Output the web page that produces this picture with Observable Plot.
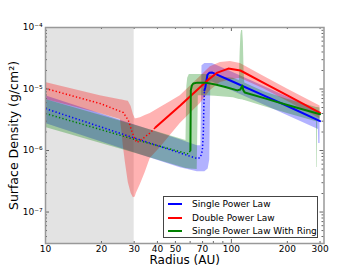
<!DOCTYPE html>
<html>
<head>
<meta charset="utf-8">
<script src="https://cdn.jsdelivr.net/npm/d3@7"></script>
<script src="https://cdn.jsdelivr.net/npm/@observablehq/plot@0.6"></script>
<style>
  html, body { margin: 0; padding: 0; background: #fff; }
  #wrap { position: relative; width: 360px; height: 270px; font-family: "DejaVu Sans", sans-serif; }
  #legend { position: absolute; left: 163px; top: 196px; width: 155px; height: 42px; box-sizing: border-box;
            border: 1px solid #444; background: #fff; font-size: 9px; color: #000; }
  .row { position: absolute; left: 0; height: 12px; line-height: 12px; white-space: nowrap; }
  .sample { position: absolute; left: 4px; width: 14px; height: 2px; top: 5px; }
  .lab { position: absolute; left: 28px; top: 0; }
</style>
</head>
<body>
<div id="wrap"></div>
<script>
// ---- axis / tick data ----
const xDomain = [10, 315];
const yDomain = [3.08e-8, 1e-4];
const shadeRange = [10, 30];
const xTickLabels = [10, 20, 30, 40, 50, 70, 100, 200, 300];
const xMajorTicks = [10, 100];
const xMinorTicks = [20, 30, 40, 50, 60, 70, 80, 90, 200, 300];
const yTickValues = [1e-7, 1e-6, 1e-5, 1e-4];
const yTickLabels = ["10\u207B\u2077", "10\u207B\u2076", "10\u207B\u2075", "10\u207B\u2074"];
const yMinorMultipliers = [2, 3, 4, 5, 6, 7, 8, 9];
const yMinorDecades = [1e-8, 1e-7, 1e-6, 1e-5];

// ---- legend ----
const seriesNames = ["Single Power Law", "Double Power Law", "Single Power Law With Ring"];
const seriesColors = ["#0000ff", "#ff0000", "#008000"];

// ---- Single Power Law (blue) ----
const blueDottedR = [10, 30, 53.1, 65.6, 68.1, 69.8, 70.7, 71.1, 71.6];
const blueDottedS = [4.8e-6, 1.6e-6, 9.1e-7, 7.4e-7, 7.7e-7, 1.0e-6, 2.1e-6, 5.4e-6, 9.5e-6];
const blueSolidR = [71.6, 72.4, 74.3, 76, 79, 100, 150, 200, 300];
const blueSolidS = [9.5e-6, 1.06e-5, 1.7e-5, 1.83e-5, 1.85e-5, 1.35e-5, 7.8e-6, 5.3e-6, 3.0e-6];
const blueBandR  = [10, 30, 53.1, 65.6, 68.5, 69.5, 72, 75, 76.5, 77.5, 79, 100, 150, 200, 294, 295, 300];
const blueBandLo = [2.75e-6, 9.2e-7, 5.25e-7, 4.5e-7, 4.5e-7, 4.5e-7, 4.5e-7, 5e-7, 7e-7, 1.3e-5, 1.3e-5, 9.5e-6, 5.5e-6, 3.7e-6, 2.2e-6, 1.3e-6, 1.3e-6];
const blueBandHi = [7.8e-6, 2.62e-6, 1.5e-6, 1.2e-6, 1.2e-6, 2.4e-5, 2.6e-5, 2.6e-5, 2.6e-5, 2.6e-5, 2.6e-5, 1.9e-5, 1.1e-5, 7.4e-6, 4.3e-6, 4.2e-6, 4.1e-6];

// ---- Double Power Law (red) ----
const redDottedR = [10, 19.7, 26.2, 27.9, 29.3, 30.4, 31.0, 33.5, 36.6, 39.0];
const redDottedS = [1.02e-5, 5.8e-6, 4.15e-6, 3.1e-6, 1.96e-6, 1.47e-6, 1.35e-6, 1.57e-6, 1.95e-6, 2.37e-6];
const redSolidR = [39.0, 53.1, 74.3, 84.1, 96.3, 111.8, 150, 200, 300];
const redSolidS = [2.37e-6, 5.4e-6, 1.38e-5, 1.85e-5, 2.15e-5, 2.0e-5, 1.25e-5, 7.9e-6, 4.1e-6];
const redBandR  = [10, 19.7, 25.3, 25.9, 26.2, 26.9, 27.9, 28.9, 29.7, 30.4, 30.8, 32.4, 34.4, 36.6, 41.5, 46.9, 53.1, 68.1, 77.1, 87.3, 98.8, 111.8, 150, 200, 300];
const redBandHi = [1.28e-5, 7.8e-6, 6.7e-6, 6.6e-6, 6.55e-6, 6.45e-6, 6.3e-6, 5.2e-6, 3.85e-6, 3.3e-6, 3.3e-6, 3.4e-6, 3.7e-6, 4.0e-6, 5.0e-6, 6.2e-6, 7.8e-6, 1.6e-5, 2.3e-5, 2.7e-5, 2.8e-5, 2.6e-5, 1.6e-5, 1.0e-5, 5.3e-6];
const redBandLo = [6.75e-6, 4.0e-6, 3.2e-6, 1.75e-6, 1.21e-6, 6.4e-7, 3.0e-7, 2.0e-7, 1.7e-7, 1.75e-7, 2.0e-7, 2.8e-7, 4.4e-7, 7.4e-7, 1.12e-6, 1.75e-6, 2.75e-6, 5.8e-6, 9.5e-6, 1.28e-5, 1.4e-5, 1.5e-5, 1.0e-5, 6.3e-6, 3.3e-6];

// ---- Single Power Law With Ring (green) ----
const greenDottedR = [10, 30, 58.7, 60.2];
const greenDottedS = [4.0e-6, 1.52e-6, 8.8e-7, 1.0e-6];
const greenSolidR = [60.2, 60.5, 61.3, 62.4, 65.6, 72.4, 82, 92.8, 107.7, 111.8, 113.9, 114.6, 116, 118, 150, 200, 300];
const greenSolidS = [1.0e-6, 9.5e-6, 1.14e-5, 1.23e-5, 1.27e-5, 1.27e-5, 1.18e-5, 1.08e-5, 9.5e-6, 9.8e-6, 1.1e-5, 1.14e-5, 9.5e-6, 8.8e-6, 7.1e-6, 5.5e-6, 3.9e-6];
const greenBandR  = [10, 30, 57.0, 57.6, 58.2, 59.4, 65.5, 66.4, 72.4, 82, 102.5, 110.4, 111.5, 112.5, 113.5, 115, 116, 117, 118, 150, 200, 287, 288, 290, 291, 300];
const greenBandLo = [2.37e-6, 9.1e-7, 5.1e-7, 5.1e-7, 5.1e-7, 5.0e-7, 4.9e-7, 7.8e-6, 7.8e-6, 7.6e-6, 7.2e-6, 6.75e-6, 6.75e-6, 6.7e-6, 6.7e-6, 6.6e-6, 6.6e-6, 6.5e-6, 6.5e-6, 5.2e-6, 4.0e-6, 2.95e-6, 5.3e-7, 5.3e-7, 2.95e-6, 2.9e-6];
const greenBandHi = [6.75e-6, 2.6e-6, 1.45e-6, 1.1e-5, 1.5e-5, 1.72e-5, 1.72e-5, 1.72e-5, 1.72e-5, 1.6e-5, 1.5e-5, 1.37e-5, 4e-5, 7.5e-5, 8.9e-5, 8.9e-5, 6e-5, 2e-5, 1.25e-5, 9.0e-6, 6.8e-6, 5.0e-6, 5.0e-6, 5.0e-6, 5.0e-6, 4.9e-6];

// ---- build tables ----
const pts = (R, S) => R.map((r, i) => ({r, s: S[i]}));
const band = (R, Lo, Hi) => R.map((r, i) => ({r, lo: Lo[i], hi: Hi[i]}));
const yMinorTicks = [];
for (const d of yMinorDecades) for (const m of yMinorMultipliers) {
  const v = m * d;
  if (v > yDomain[0] && v < yDomain[1]) yMinorTicks.push(v);
}

const W = 360, H = 270, mL = 45, mR = 36.5, mT = 27, mB = 27;
const innerH = H - mT - mB, innerW = W - mL - mR;
const tickColor = "#666";

const dotted = {strokeWidth: 1.5, strokeDasharray: "1.3,2.2", strokeLinecap: "butt"};
const solid = {strokeWidth: 2};

const chart = Plot.plot({
  width: W, height: H,
  marginLeft: mL, marginRight: mR, marginTop: mT, marginBottom: mB,
  x: {type: "log", domain: xDomain},
  y: {type: "log", domain: yDomain},
  style: {fontFamily: "'DejaVu Sans', sans-serif", fontSize: "9px", color: "#000", background: "transparent"},
  marks: [
    Plot.rect([shadeRange], {x1: d => d[0], x2: d => d[1], fill: "#e3e3e3"}),
    Plot.areaY(band(blueBandR, blueBandLo, blueBandHi), {x: "r", y1: "lo", y2: "hi", fill: seriesColors[0], fillOpacity: 0.3}),
    Plot.areaY(band(redBandR, redBandLo, redBandHi), {x: "r", y1: "lo", y2: "hi", fill: seriesColors[1], fillOpacity: 0.3}),
    Plot.areaY(band(greenBandR, greenBandLo, greenBandHi), {x: "r", y1: "lo", y2: "hi", fill: seriesColors[2], fillOpacity: 0.3}),
    Plot.line(pts(blueDottedR, blueDottedS), {x: "r", y: "s", stroke: seriesColors[0], ...dotted}),
    Plot.line(pts(redDottedR, redDottedS), {x: "r", y: "s", stroke: seriesColors[1], ...dotted}),
    Plot.line(pts(greenDottedR, greenDottedS), {x: "r", y: "s", stroke: seriesColors[2], ...dotted}),
    Plot.line(pts(blueSolidR, blueSolidS), {x: "r", y: "s", stroke: seriesColors[0], ...solid}),
    Plot.line(pts(redSolidR, redSolidS), {x: "r", y: "s", stroke: seriesColors[1], ...solid}),
    Plot.line(pts(greenSolidR, greenSolidS), {x: "r", y: "s", stroke: seriesColors[2], ...solid}),
    // inward ticks
    Plot.ruleX(xMajorTicks, {x: d => d, insetTop: innerH - 4, stroke: tickColor}),
    Plot.ruleX(xMajorTicks, {x: d => d, insetBottom: innerH - 4, stroke: tickColor}),
    Plot.ruleX(xMinorTicks, {x: d => d, insetTop: innerH - 2, stroke: tickColor}),
    Plot.ruleX(xMinorTicks, {x: d => d, insetBottom: innerH - 2, stroke: tickColor}),
    Plot.ruleY(yTickValues, {y: d => d, insetRight: innerW - 4, stroke: tickColor}),
    Plot.ruleY(yTickValues, {y: d => d, insetLeft: innerW - 4, stroke: tickColor}),
    Plot.ruleY(yMinorTicks, {y: d => d, insetRight: innerW - 2, stroke: tickColor}),
    Plot.ruleY(yMinorTicks, {y: d => d, insetLeft: innerW - 2, stroke: tickColor}),
    Plot.frame({stroke: "#999", strokeWidth: 1.5}),
    Plot.axisX({ticks: xTickLabels, tickSize: 0, tickPadding: 2, tickFormat: d => String(d), label: null, fontSize: 9}),
    Plot.axisY({ticks: yTickValues, tickSize: 0, tickPadding: 3, tickFormat: d => yTickLabels[yTickValues.indexOf(d)], label: null, fontSize: 9}),
    Plot.text(["Radius (AU)"], {text: d => d, frameAnchor: "bottom", dy: 20.5, fontSize: 12}),
    Plot.text(["Surface Density (g/cm\u00B2)"], {text: d => d, frameAnchor: "left", textAnchor: "middle", dx: -32, rotate: -90, fontSize: 12.5})
  ]
});

const wrap = document.getElementById("wrap");
wrap.appendChild(chart);

const legend = document.createElement("div");
legend.id = "legend";
const rowTops = [1, 14.5, 28];
seriesNames.forEach((name, i) => {
  const row = document.createElement("div");
  row.className = "row";
  row.style.top = rowTops[i] + "px";
  row.style.width = "100%";
  const s = document.createElement("div");
  s.className = "sample";
  s.style.background = seriesColors[i];
  const t = document.createElement("span");
  t.className = "lab";
  t.textContent = name;
  row.appendChild(s); row.appendChild(t);
  legend.appendChild(row);
});
wrap.appendChild(legend);
</script>
</body>
</html>
